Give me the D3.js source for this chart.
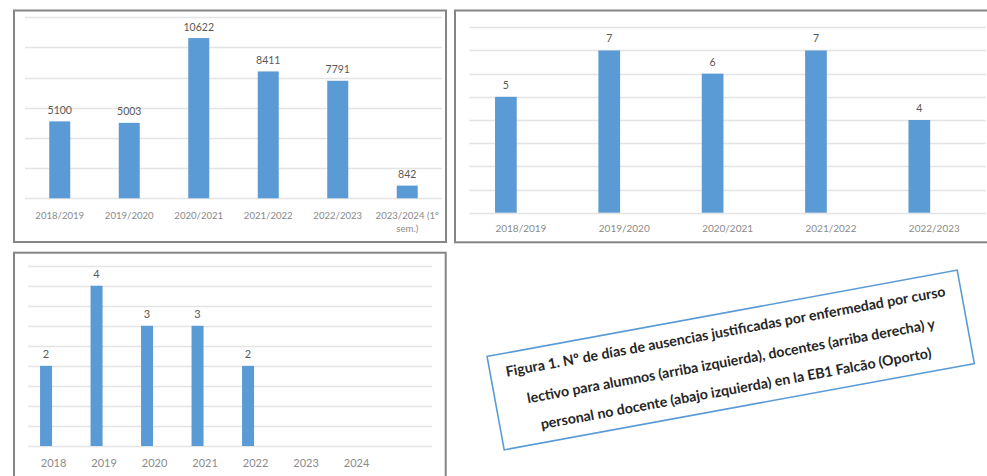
<!DOCTYPE html>
<html>
<head>
<meta charset="utf-8">
<script src="https://cdn.jsdelivr.net/npm/d3@7"></script>
<style>
  html, body { margin: 0; padding: 0; background: #ffffff; }
  svg { display: block; }
</style>
</head>
<body>
<svg id="chart" width="987" height="476"></svg>
<script>
// ---------- DATA ----------
const catsAlumnos = ["2018/2019", "2019/2020", "2020/2021", "2021/2022", "2022/2023", "2023/2024 (1º sem.)"];
const valsAlumnos = [5100, 5003, 10622, 8411, 7791, 842];
const ticksAlumnos = [0, 2000, 4000, 6000, 8000, 10000, 12000];

const catsDocentes = ["2018/2019", "2019/2020", "2020/2021", "2021/2022", "2022/2023"];
const valsDocentes = [5, 7, 6, 7, 4];
const ticksDocentes = [0, 1, 2, 3, 4, 5, 6, 7, 8];

const catsNoDocente = ["2018", "2019", "2020", "2021", "2022", "2023", "2024", ""];
const valsNoDocente = [2, 4, 3, 3, 2, null, null, null];
const ticksNoDocente = [0, 0.5, 1, 1.5, 2, 2.5, 3, 3.5, 4, 4.5];

const captionLines = [
  "Figura 1. Nº de días de ausencias justificadas por enfermedad por curso",
  "lectivo para alumnos (arriba izquierda), docentes (arriba derecha) y",
  "personal no docente (abajo izquierda) en la EB1 Falcão (Oporto)"
];

// ---------- STYLE ----------
const BAR = "#5b9bd5";
const GRID = "#e4e4e4";
const BORDER = "#858585";
const VALTXT = "#595959";
const CATTXT = "#8a8a8a";
const FONT = "Lato, 'Open Sans', 'Liberation Sans', sans-serif";

const svg = d3.select("#chart");

function wrapLabel(textSel, maxWidth) {
  textSel.each(function () {
    const t = d3.select(this);
    const words = t.text().split(/\s+/);
    t.text(null);
    let line = [];
    let tspan = t.append("tspan").attr("x", 0).attr("dy", 0);
    words.forEach(w => {
      line.push(w);
      tspan.text(line.join(" "));
      if (tspan.node().getComputedTextLength() > maxWidth && line.length > 1) {
        line.pop();
        tspan.text(line.join(" "));
        line = [w];
        tspan = t.append("tspan").attr("x", 0).attr("dy", "1.45em").text(w);
      }
    });
  });
}

function drawPanel(cfg) {
  const g = svg.append("g");
  // frame
  g.append("rect")
    .attr("x", cfg.frame[0]).attr("y", cfg.frame[1])
    .attr("width", cfg.frame[2]).attr("height", cfg.frame[3])
    .attr("fill", "#fff").attr("stroke", BORDER).attr("stroke-width", 2);

  const x = d3.scaleBand().domain(cfg.cats).range(cfg.xRange).padding(0);
  const y = d3.scaleLinear().domain([cfg.ticks[0], cfg.ticks[cfg.ticks.length - 1]]).range(cfg.yRange);
  const inner = d3.scaleBand().domain(cfg.series)
    .range([-cfg.innerHalf, cfg.innerHalf])
    .paddingInner(cfg.innerPad).paddingOuter(0);

  // gridlines
  g.append("g").selectAll("line").data(cfg.ticks).join("line")
    .attr("x1", cfg.xRange[0]).attr("x2", cfg.xRange[1])
    .attr("y1", d => Math.round(y(d)) + 0.5).attr("y2", d => Math.round(y(d)) + 0.5)
    .attr("stroke", GRID).attr("stroke-width", 1.3);

  const data = cfg.cats.map((c, i) => ({ c, v: cfg.vals[i] })).filter(d => d.v != null);

  // bars
  g.append("g").selectAll("rect").data(data).join("rect")
    .attr("x", d => x(d.c) + x.bandwidth() / 2 + inner(cfg.series[0]))
    .attr("width", inner.bandwidth())
    .attr("y", d => y(d.v))
    .attr("height", d => y(0) - y(d.v))
    .attr("fill", BAR);

  // value labels
  g.append("g").selectAll("text").data(data).join("text")
    .attr("x", d => x(d.c) + x.bandwidth() / 2 + inner(cfg.series[0]) + inner.bandwidth() / 2)
    .attr("y", d => y(d.v) - cfg.valGap)
    .attr("text-anchor", "middle")
    .attr("font-family", FONT).attr("font-size", cfg.valSize)
    .attr("fill", VALTXT)
    .text(d => d.v);

  // category axis labels (via d3 axis, restyled)
  const axis = d3.axisBottom(x).tickSize(0).tickPadding(0);
  const ax = g.append("g").attr("transform", `translate(0,${cfg.catY})`).call(axis);
  ax.select(".domain").remove();
  ax.selectAll("text")
    .attr("y", 0).attr("dy", 0)
    .attr("font-family", FONT).attr("font-size", cfg.catSize)
    .attr("fill", CATTXT)
    .call(wrapLabel, x.bandwidth() - 2);
}

// top-left: alumnos
drawPanel({
  frame: [14, 10.5, 432, 231.5],
  cats: catsAlumnos, vals: valsAlumnos, ticks: ticksAlumnos,
  xRange: [25, 442], yRange: [198.3, 17.3],
  series: ["alumnos"], innerHalf: 10.5, innerPad: 0,
  valGap: 7.5, valSize: 10.5, catY: 218.5, catSize: 9.6
});

// top-right: docentes
drawPanel({
  frame: [455, 10.5, 540, 231.8],
  cats: catsDocentes, vals: valsDocentes, ticks: ticksDocentes,
  xRange: [469.2, 986], yRange: [212.7, 27.3],
  series: ["docentes", "serie2"], innerHalf: 25.85, innerPad: 0.277,
  valGap: 8, valSize: 10.5, catY: 232, catSize: 10
});

// bottom-left: personal no docente
drawPanel({
  frame: [14, 252.7, 431.7, 240],
  cats: catsNoDocente, vals: valsNoDocente, ticks: ticksNoDocente,
  xRange: [28.3, 432.3], yRange: [446, 265.7],
  series: ["personal", "serie2"], innerHalf: 13.5, innerPad: 0.2,
  valGap: 8, valSize: 11, catY: 467, catSize: 11
});

// caption box (rotated)
const cap = svg.append("g").attr("transform", "translate(730.7,360) rotate(-10.4)");
cap.append("rect")
  .attr("x", -239).attr("y", -47.5).attr("width", 478).attr("height", 95)
  .attr("fill", "#fff").attr("stroke", BAR).attr("stroke-width", 1.6);

const lineV = [-28.5, 1.5, 29.5];
const capText = cap.selectAll("text").data(captionLines).join("text")
  .attr("x", 0)
  .attr("y", (d, i) => lineV[i] + 4.5)
  .attr("text-anchor", "middle")
  .attr("font-family", FONT).attr("font-weight", "bold")
  .attr("font-size", 13)
  .attr("fill", "#262626")
  .text(d => d);
// fit font size so the first line spans the measured width
const w0 = capText.nodes()[0].getComputedTextLength();
const fs = 13 * 447 / w0;
capText.attr("font-size", fs);
</script>
</body>
</html>
